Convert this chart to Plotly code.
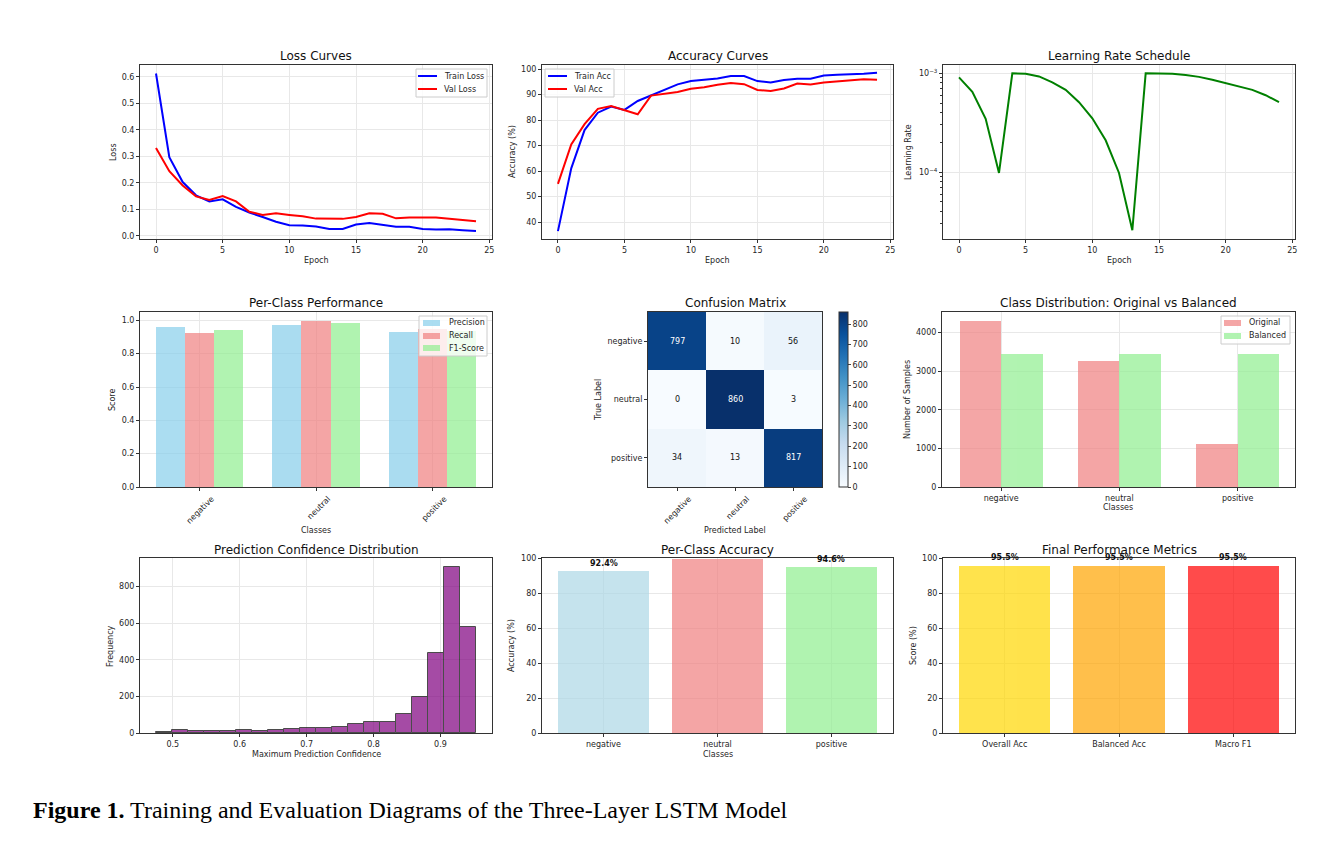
import plotly.graph_objects as go
import numpy as np

W, H = 1324, 848
PAD = 8                      # browser body margin around the plot div
FW, FH = W - 2 * PAD, H - 2 * PAD

# ---------------- data ----------------
epochs = list(range(25))
train_loss = [0.613, 0.297, 0.203, 0.153, 0.130, 0.138, 0.109, 0.088, 0.071, 0.053,
              0.040, 0.039, 0.035, 0.026, 0.026, 0.043, 0.048, 0.040, 0.034, 0.034,
              0.026, 0.024, 0.025, 0.021, 0.018]
val_loss = [0.332, 0.244, 0.190, 0.149, 0.135, 0.150, 0.130, 0.091, 0.079, 0.085,
            0.079, 0.074, 0.065, 0.065, 0.064, 0.071, 0.085, 0.083, 0.066, 0.069,
            0.069, 0.069, 0.064, 0.059, 0.055]
train_acc = [36.5, 61.1, 76.1, 82.9, 85.3, 84.0, 87.5, 89.6, 91.8, 94.0,
             95.3, 95.7, 96.3, 97.3, 97.3, 95.3, 94.7, 95.7, 96.2, 96.2,
             97.5, 97.8, 97.9, 98.2, 98.6]
val_acc = [55.0, 70.5, 78.4, 84.4, 85.5, 84.0, 82.3, 89.6, 90.2, 91.0,
           92.3, 92.9, 93.9, 94.5, 94.1, 91.8, 91.4, 92.4, 94.3, 94.0,
           94.7, 95.2, 95.6, 96.0, 95.8]
learning_rate = [9.1e-4, 6.5e-4, 3.46e-4, 9.8e-5, 1.0e-3, 9.9e-4, 9.3e-4, 8.1e-4, 6.8e-4, 5.1e-4,
                 3.5e-4, 2.1e-4, 9.8e-5, 2.58e-5, 1.0e-3, 1.0e-3, 9.9e-4, 9.6e-4, 9.2e-4, 8.6e-4,
                 8.0e-4, 7.4e-4, 6.8e-4, 6.0e-4, 5.1e-4]

classes = ["negative", "neutral", "positive"]
precision = [0.959, 0.974, 0.933]
recall = [0.924, 0.997, 0.946]
f1_score = [0.941, 0.985, 0.939]

confusion = [[797, 10, 56],
             [0, 860, 3],
             [34, 13, 817]]

original_counts = [4304, 3271, 1102]
balanced_counts = [3445, 3445, 3445]

hist_bin_start = 0.4755
hist_bin_width = 0.02385
hist_counts = [4, 14, 9, 13, 13, 16, 13, 16, 24, 26,
               26, 35, 47, 62, 58, 104, 197, 435, 905, 581]

class_accuracy = [92.4, 99.7, 94.6]
metric_names = ["Overall Acc", "Balanced Acc", "Macro F1"]
metric_values = [95.5, 95.5, 95.5]

# ---------------- helpers ----------------
def fx(p):
    return (p - PAD) / FW

def fy(p):
    return 1 - (p - PAD) / FH

FONT = "DejaVu Sans"
TXT = "#262626"

cols = {1: (140, 492), 2: (542, 893), 3: (943, 1295)}
rows = {1: (65, 239), 2: (312, 487), 3: (558, 733)}

def base_axis(**kw):
    d = dict(showline=True, linecolor="#333333", linewidth=1, mirror=True,
             ticks="outside", ticklen=3, tickcolor="#333333",
             tickfont=dict(size=8, color=TXT, family=FONT),
             showgrid=True, gridcolor="#e8e8e8", gridwidth=1,
             zeroline=False, automargin=False)
    d.update(kw)
    return d

fig = go.Figure()
layout = {}
annotations = []
shapes = []

def set_axes(n, xdom, ydom, xkw, ykw):
    xs = "xaxis" if n == 1 else f"xaxis{n}"
    ys = "yaxis" if n == 1 else f"yaxis{n}"
    xa = base_axis(domain=[fx(xdom[0]), fx(xdom[1])], anchor=f"y{n}" if n > 1 else "y")
    xa.update(xkw)
    ya = base_axis(domain=[fy(ydom[1]), fy(ydom[0])], anchor=f"x{n}" if n > 1 else "x")
    ya.update(ykw)
    layout[xs] = xa
    layout[ys] = ya

def title(text, xc, yc):
    annotations.append(dict(text=text, x=fx(xc), y=fy(yc), xref="paper", yref="paper",
                            showarrow=False, font=dict(size=12, color="#111", family=FONT),
                            xanchor="center", yanchor="middle"))

def xlabel(text, xc, yc):
    annotations.append(dict(text=text, x=fx(xc), y=fy(yc), xref="paper", yref="paper",
                            showarrow=False, font=dict(size=8, color=TXT, family=FONT),
                            xanchor="center", yanchor="middle"))

def ylabel(text, xc, yc):
    annotations.append(dict(text=text, x=fx(xc), y=fy(yc), xref="paper", yref="paper",
                            showarrow=False, textangle=-90,
                            font=dict(size=8, color=TXT, family=FONT),
                            xanchor="center", yanchor="middle"))

def legend(items, box, sym_x, text_x, ys):
    """items: list of (name, color, kind, opacity); box: (x0, y0, x1, y1) in px."""
    x0, y0, x1, y1 = box
    shapes.append(dict(type="rect", xref="paper", yref="paper",
                       x0=fx(x0), x1=fx(x1), y0=fy(y1), y1=fy(y0),
                       fillcolor="rgba(255,255,255,0.8)", line=dict(color="#cccccc", width=1)))
    for (name, color, kind, op), yy in zip(items, ys):
        if kind == "line":
            shapes.append(dict(type="line", xref="paper", yref="paper",
                               x0=fx(sym_x[0]), x1=fx(sym_x[1]), y0=fy(yy), y1=fy(yy),
                               line=dict(color=color, width=2)))
        else:
            shapes.append(dict(type="rect", xref="paper", yref="paper",
                               x0=fx(sym_x[0]), x1=fx(sym_x[1]), y0=fy(yy + 3), y1=fy(yy - 3),
                               fillcolor=color, opacity=op, line=dict(width=0)))
        annotations.append(dict(text=name, x=fx(text_x), y=fy(yy), xref="paper", yref="paper",
                                showarrow=False, xanchor="left", yanchor="middle",
                                font=dict(size=8, color=TXT, family=FONT)))

def cx(c):
    return (cols[c][0] + cols[c][1]) / 2

# ---------------- 1: Loss curves ----------------
fig.add_trace(go.Scatter(x=epochs, y=train_loss, mode="lines", name="Train Loss",
                         line=dict(color="#0000ff", width=2), xaxis="x", yaxis="y"))
fig.add_trace(go.Scatter(x=epochs, y=val_loss, mode="lines", name="Val Loss",
                         line=dict(color="#ff0000", width=2), xaxis="x", yaxis="y"))
set_axes(1, cols[1], rows[1],
         dict(range=[-1.2, 25.2], tickvals=[0, 5, 10, 15, 20, 25]),
         dict(range=[-0.012, 0.645], tickvals=[0, 0.1, 0.2, 0.3, 0.4, 0.5, 0.6], tickformat=".1f"))
title("Loss Curves", cx(1), 56)
xlabel("Epoch", cx(1), 260)
ylabel("Loss", 113, 152)
legend([("Train Loss", "#0000ff", "line", 1), ("Val Loss", "#ff0000", "line", 1)],
       (416, 69, 487, 97), (418, 437), 442, [76, 89])

# ---------------- 2: Accuracy curves ----------------
fig.add_trace(go.Scatter(x=epochs, y=train_acc, mode="lines", name="Train Acc",
                         line=dict(color="#0000ff", width=2), xaxis="x2", yaxis="y2"))
fig.add_trace(go.Scatter(x=epochs, y=val_acc, mode="lines", name="Val Acc",
                         line=dict(color="#ff0000", width=2), xaxis="x2", yaxis="y2"))
set_axes(2, cols[2], rows[1],
         dict(range=[-1.2, 25.2], tickvals=[0, 5, 10, 15, 20, 25]),
         dict(range=[33.4, 101.6], tickvals=[40, 50, 60, 70, 80, 90, 100]))
title("Accuracy Curves", cx(2), 56)
xlabel("Epoch", cx(2), 260)
ylabel("Accuracy (%)", 512, 152)
legend([("Train Acc", "#0000ff", "line", 1), ("Val Acc", "#ff0000", "line", 1)],
       (545, 69, 614, 97), (548, 567), 572, [76, 89])

# ---------------- 3: Learning rate ----------------
fig.add_trace(go.Scatter(x=epochs, y=learning_rate, mode="lines", name="LR",
                         line=dict(color="#008000", width=2), xaxis="x3", yaxis="y3"))
set_axes(3, cols[3], rows[1],
         dict(range=[-1.2, 25.2], tickvals=[0, 5, 10, 15, 20, 25]),
         dict(type="log", range=[-4.677, -2.916], tickvals=[1e-4, 1e-3],
              ticktext=["10<sup>−4</sup>", "10<sup>−3</sup>"],
              minor=dict(ticks="outside", ticklen=2, tickcolor="#333333",
                         tickvals=[3e-5, 4e-5, 5e-5, 6e-5, 7e-5, 8e-5, 9e-5,
                                   2e-4, 3e-4, 4e-4, 5e-4, 6e-4, 7e-4, 8e-4, 9e-4],
                         showgrid=False)))
title("Learning Rate Schedule", cx(3), 56)
xlabel("Epoch", cx(3), 260)
ylabel("Learning Rate", 908, 152)

# ---------------- 4: Per-class performance ----------------
xi = np.arange(len(classes))
bw = 0.25
perf_series = [(precision, "Precision", "#87ceeb", -bw),
               (recall, "Recall", "#f08080", 0),
               (f1_score, "F1-Score", "#90ee90", bw)]
for vals, name, col, off in perf_series:
    fig.add_trace(go.Bar(x=xi + off, y=vals, width=bw, name=name,
                         marker=dict(color=col, line=dict(width=0)), opacity=0.7,
                         xaxis="x4", yaxis="y4"))
set_axes(4, cols[1], rows[2],
         dict(range=[-0.5125, 2.5125], tickvals=[0, 1, 2], ticktext=classes, tickangle=-45,
              ticklabelshift=12),
         dict(range=[0, 1.05], tickvals=[0, 0.2, 0.4, 0.6, 0.8, 1.0], tickformat=".1f"))
title("Per-Class Performance", cx(1), 303)
xlabel("Classes", cx(1), 530)
ylabel("Score", 112, 400)
legend([(s[1], s[2], "rect", 0.7) for s in perf_series],
       (419, 316, 487, 356), (423, 440), 447, [323, 336, 348])

# ---------------- 5: Confusion matrix ----------------
blues = [[0.0, "#f7fbff"], [0.125, "#deebf7"], [0.25, "#c6dbef"], [0.375, "#9ecae1"],
         [0.5, "#6baed6"], [0.625, "#4292c6"], [0.75, "#2171b5"], [0.875, "#08519c"],
         [1.0, "#08306b"]]
zmax = max(max(r) for r in confusion)
fig.add_trace(go.Heatmap(z=confusion, x=xi, y=xi, colorscale=blues, zmin=0, zmax=zmax,
                         xaxis="x5", yaxis="y5", showscale=True,
                         colorbar=dict(x=fx(839), xanchor="left", xref="paper", xpad=0,
                                       y=fy(487), yanchor="bottom", yref="paper", ypad=0,
                                       len=175 / FH, lenmode="fraction", thickness=9,
                                       outlinecolor="#333333", outlinewidth=1,
                                       ticks="outside", ticklen=3,
                                       tickvals=[0, 100, 200, 300, 400, 500, 600, 700, 800],
                                       tickfont=dict(size=8, color=TXT, family=FONT))))
set_axes(5, (648, 822), rows[2],
         dict(range=[-0.5, 2.5], tickvals=[0, 1, 2], ticktext=classes, tickangle=-45,
              ticklabelshift=12, showgrid=False),
         dict(range=[2.5, -0.5], tickvals=[0, 1, 2], ticktext=classes, showgrid=False))
for i in range(3):
    for j in range(3):
        v = confusion[i][j]
        annotations.append(dict(text=str(v), x=j, y=i, xref="x5", yref="y5", showarrow=False,
                                font=dict(size=8, family=FONT,
                                          color="white" if v > zmax / 2 else "#111")))
title("Confusion Matrix", 735, 303)
xlabel("Predicted Label", 735, 530)
ylabel("True Label", 598, 400)

# ---------------- 6: Class distribution ----------------
bw2 = 0.35
fig.add_trace(go.Bar(x=xi - bw2 / 2, y=original_counts, width=bw2, name="Original",
                     marker=dict(color="#f08080", line=dict(width=0)), opacity=0.7,
                     xaxis="x6", yaxis="y6"))
fig.add_trace(go.Bar(x=xi + bw2 / 2, y=balanced_counts, width=bw2, name="Balanced",
                     marker=dict(color="#90ee90", line=dict(width=0)), opacity=0.7,
                     xaxis="x6", yaxis="y6"))
set_axes(6, (942, 1295), rows[2],
         dict(range=[-0.5, 2.485], tickvals=[0, 1, 2], ticktext=classes),
         dict(range=[0, 4530], tickvals=[0, 1000, 2000, 3000, 4000]))
title("Class Distribution: Original vs Balanced", 1118, 303)
xlabel("Classes", 1118, 507)
ylabel("Number of Samples", 907, 400)
legend([("Original", "#f08080", "rect", 0.7), ("Balanced", "#90ee90", "rect", 0.7)],
       (1221, 316, 1290, 344), (1224, 1241), 1247, [323, 336])

# ---------------- 7: Confidence histogram ----------------
centers = hist_bin_start + hist_bin_width * (np.arange(len(hist_counts)) + 0.5)
fig.add_trace(go.Bar(x=centers, y=hist_counts, width=hist_bin_width,
                     marker=dict(color="#800080", line=dict(color="#000000", width=1)),
                     opacity=0.7, xaxis="x7", yaxis="y7"))
set_axes(7, cols[1], rows[3],
         dict(range=[0.451, 0.977], tickvals=[0.5, 0.6, 0.7, 0.8, 0.9], tickformat=".1f"),
         dict(range=[0, 955], tickvals=[0, 200, 400, 600, 800]))
title("Prediction Confidence Distribution", cx(1), 550)
xlabel("Maximum Prediction Confidence", cx(1), 754)
ylabel("Frequency", 110, 646)

# ---------------- 8: Per-class accuracy ----------------
fig.add_trace(go.Bar(x=xi, y=class_accuracy, width=0.8,
                     marker=dict(color=["#add8e6", "#f08080", "#90ee90"], line=dict(width=0)),
                     opacity=0.7, xaxis="x8", yaxis="y8"))
set_axes(8, cols[2], rows[3],
         dict(range=[-0.54, 2.54], tickvals=[0, 1, 2], ticktext=classes),
         dict(range=[0, 100], tickvals=[0, 20, 40, 60, 80, 100]))
for i, v in enumerate(class_accuracy):
    annotations.append(dict(text=f"<b>{v:.1f}%</b>", x=i, y=v + 1, xref="x8", yref="y8",
                            showarrow=False, yanchor="bottom",
                            font=dict(size=8, color="#111", family=FONT)))
title("Per-Class Accuracy", cx(2), 550)
xlabel("Classes", cx(2), 754)
ylabel("Accuracy (%)", 511, 646)

# ---------------- 9: Final metrics ----------------
fig.add_trace(go.Bar(x=xi, y=metric_values, width=0.8,
                     marker=dict(color=["#ffd700", "#ffa500", "#ff0000"], line=dict(width=0)),
                     opacity=0.7, xaxis="x9", yaxis="y9"))
set_axes(9, cols[3], rows[3],
         dict(range=[-0.54, 2.54], tickvals=[0, 1, 2], ticktext=metric_names),
         dict(range=[0, 100], tickvals=[0, 20, 40, 60, 80, 100]))
for i, v in enumerate(metric_values):
    annotations.append(dict(text=f"<b>{v:.1f}%</b>", x=i, y=v + 1, xref="x9", yref="y9",
                            showarrow=False, yanchor="bottom",
                            font=dict(size=8, color="#111", family=FONT)))
title("Final Performance Metrics", cx(3), 550)
ylabel("Score (%)", 913, 646)

# ---------------- caption ----------------
annotations.append(dict(text="<b>Figure 1.</b> Training and Evaluation Diagrams of the Three-Layer LSTM Model",
                        x=fx(31), y=fy(810), xref="paper", yref="paper", showarrow=False,
                        xanchor="left", yanchor="middle",
                        font=dict(size=24, color="#000", family="Liberation Serif")))

fig.update_layout(**layout)
fig.update_layout(width=FW, height=FH, margin=dict(l=0, r=0, t=0, b=0),
                  paper_bgcolor="white", plot_bgcolor="white",
                  barmode="overlay", bargap=0, showlegend=False,
                  font=dict(family=FONT, color=TXT),
                  annotations=annotations, shapes=shapes)

fig.write_html("out.html")
